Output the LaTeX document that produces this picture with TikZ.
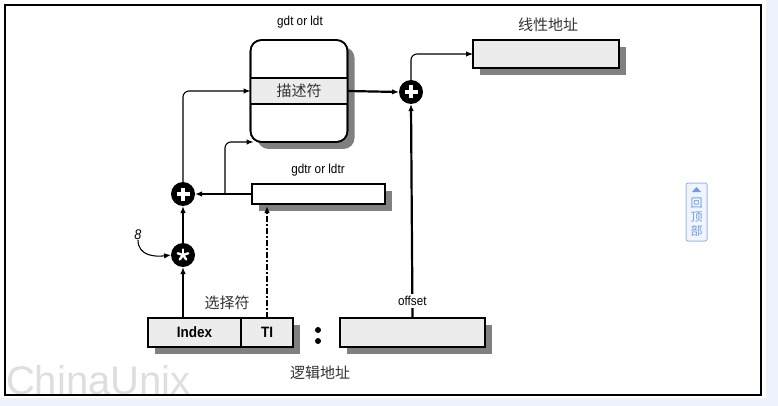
\documentclass[tikz,border=0pt]{standalone}
\usepackage{fontspec}
\setmainfont{Liberation Sans}
\newfontfamily\narrow[FakeStretch=0.9]{Liberation Sans}
\newfontfamily\cjk{Noto Sans CJK SC}
\usetikzlibrary{arrows.meta,shadows,calc}

\definecolor{pagebg}{RGB}{238,242,250}
\definecolor{boxgray}{RGB}{236,236,236}
\definecolor{topblue}{RGB}{110,158,226}
\definecolor{topfill}{RGB}{240,245,253}

\begin{document}
\begin{tikzpicture}[x=1pt,y=-1pt,
		every node/.style={inner sep=0pt,outer sep=0pt},
		shade/.style={drop shadow={shadow xshift=7pt,shadow yshift=-7pt,fill=black!50,opacity=1}},
		reg/.style={draw,line width=1.5pt,fill=boxgray,shade},
		op/.style={circle,fill=black,minimum size=24},
		addop/.style={op,path picture={
			\draw[white,line width=3.2pt] ($(path picture bounding box.center)+(-6.5,0)$) -- ++(13,0)
				($(path picture bounding box.center)+(0,-6.5)$) -- ++(0,13);}},
		mulop/.style={op,path picture={
			\foreach \a in {90,162,234,306,18}
				\draw[white,line width=2.4pt,line cap=round] (path picture bounding box.center) -- ++(\a:5.5pt);}},
		lbl/.style={font=\narrow\fontsize{13}{13}\selectfont},
		fld/.style={font=\narrow\bfseries\fontsize{15}{15}\selectfont},
		zh/.style={font=\cjk\fontsize{15}{15}\selectfont,text=black!80},
		arr/.style={-{Latex[length=7pt,width=5.5pt]}},
		thickarr/.style={arr,line width=2.2pt},
		thinarr/.style={arr,line width=1.1pt,rounded corners=6pt}]

		% page and frame
		\fill[white] (0,0) rectangle (778,406);
		\useasboundingbox (0,0) rectangle (778,406);
		\fill[pagebg] (766,0) rectangle (778,406);
		\fill[pagebg] (0,398) rectangle (778,406);
		\node[font=\fontsize{40}{40}\selectfont,text=black!13,anchor=base west] (wm) at (6,394) {ChinaUnix};
		\node[font=\fontsize{10}{10}\selectfont,text=black!15] (wmnet) at (186,349) {.net};
		\draw[line width=2pt] (5,5) rectangle (761,395);

		% descriptor table
		\node[lbl] (gdtlbl) at (300,22) {gdt or ldt};
		\node[draw,line width=1.6pt,rounded corners=11pt,fill=white,shade,
			minimum width=97,minimum height=102] (gdt) at (299,91) {};
		\node[zh,draw,line width=1.4pt,fill=boxgray,minimum width=97,minimum height=26] (desc) at (299,91) {描述符};
		\draw[line width=1.6pt,rounded corners=11pt] (gdt.south west) rectangle (gdt.north east);

		% linear address
		\node[addop] (sum) at (411,92) {};
		\node[reg,minimum width=146,minimum height=28] (lin) at (546,54) {};
		\node[zh] (linlbl) at (548,25) {线性地址};

		% gdtr
		\node[reg,fill=white,minimum width=133,minimum height=20] (gdtr) at (318.5,194) {};
		\node[lbl] (gdtrlbl) at (318,170) {gdtr or ldtr};
		\node[addop] (base) at (183,194) {};
		\node[mulop] (scale) at (183,255) {};
		\node[lbl,font=\narrow\itshape\fontsize{14}{14}\selectfont] (eight) at (138,235) {8};

		% logical address
		\node[reg,fld,minimum width=93,minimum height=29] (idx) at (194.5,332.5) {Index};
		\node[reg,fld,minimum width=52,minimum height=29] (ti) at (267,332.5) {TI};
		\node[zh] (sellbl) at (227,303) {选择符};
		\node[circle,fill=black,minimum size=6] (dota) at (318,330) {};
		\node[circle,fill=black,minimum size=6] (dotb) at (318,341) {};
		\node[reg,minimum width=145,minimum height=29] (off) at (412.5,332.5) {};
		\node[zh] (logic) at (320,373) {逻辑地址};

		\coordinate (fork) at (225,194);

		\draw[thickarr] (desc.east) -- (sum.west);
		\draw[thinarr] (sum.north) |- (lin.west);
		\draw[thickarr] (off.north) -- node[pos=0.08,fill=white,inner sep=2pt,lbl]{offset} (sum.south);
		\draw[thickarr] (idx.north -| scale) -- (scale.south);
		\draw[thickarr] (scale.north) -- (base.south);
		\draw[arr,line width=1.5pt] (gdtr.west) -- (base.east);
		\draw[thinarr] (fork) |- ([xshift=3pt]gdt.south west);
		\draw[thinarr] (base.north) |- (desc.west);
		\draw[thickarr,dash pattern=on 6pt off 2pt on 2pt off 2pt] (ti.north) -- ([yshift=-2pt]ti.north |- gdtr.south);
		\draw[thinarr] (eight.south) .. controls +(0,16) and +(-16,2) .. (scale.west);

		% page button
		\node[draw=topblue!70,fill=topfill,line width=1pt,rounded corners=2pt,
			minimum width=21,minimum height=58] (totop) at (696.5,212) {};
		\fill[topblue] (692,192) -- (701,192) -- (696.5,187) -- cycle;
		\node[font=\cjk\fontsize{12}{14}\selectfont,text=topblue,align=center] (totoplbl) at (696.5,217) {回\\顶\\部};
\end{tikzpicture}
\end{document}
